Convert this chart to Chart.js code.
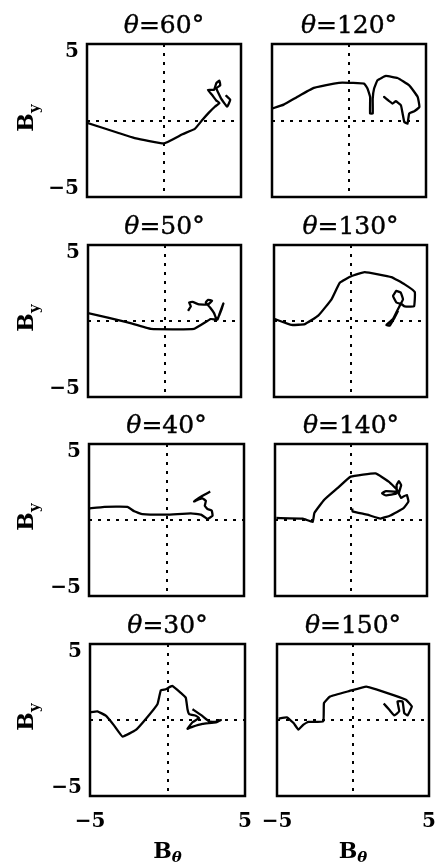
<!DOCTYPE html>
<html>
<head>
<meta charset="utf-8">
<script src="https://cdn.jsdelivr.net/npm/chart.js@4.4.1/dist/chart.umd.min.js"></script>
<style>
  html, body { margin: 0; padding: 0; background: #fff; overflow: hidden; }
  #page { position: relative; width: 438px; height: 865px; overflow: hidden; }
  canvas { position: absolute; }
  .title { position: absolute; text-align: center; font: 25px/24px "DejaVu Serif", serif; color: #000; z-index: 2; white-space: nowrap; -webkit-text-stroke: 0.4px #000; }
  .ylab, .xlab { position: absolute; text-align: center; font: bold 22px/30px "DejaVu Serif", serif; color: #000; z-index: 2; white-space: nowrap; }
  .ylab { width: 60px; height: 30px; transform: rotate(-90deg); }
  .xlab { width: 60px; line-height: 22px; }
  .ylab sub { font-size: 15px; vertical-align: -6px; }
  .xlab sub { font-size: 15px; vertical-align: -4px; }
</style>
</head>
<body>
<div id="page"></div>
<script>
const angles = [60, 120, 50, 130, 40, 140, 30, 150];
const axisTicks = [-5, 0, 5];
const axisTickText = ['−5', '', '5'];

// hodogram traces: B_theta (x) and B_y (y) for each panel
const bt60 = [-5, -3.0, -1.9, 0, 1.2, 2.0, 2.5, 2.9, 3.3, 3.6, 3.4, 3.1, 2.85, 3.25, 3.4, 3.6, 3.65, 3.4, 3.7, 4.1, 4.3, 4.0];
const by60 = [-0.15, -0.8, -1.15, -1.5, -0.9, -0.55, 0.05, 0.5, 0.9, 1.15, 1.3, 1.7, 2.0, 2.0, 2.45, 2.6, 2.3, 2.1, 1.45, 0.9, 1.35, 1.65];

const bt120 = [-5, -4.24, -3.37, -2.28, -0.98, -0.43, 0.98, 1.2, 1.37, 1.37, 1.54, 1.54, 1.63, 1.85, 2.39, 3.15, 3.91, 4.46, 4.57, 4.24, 3.91, 3.8, 3.59, 3.48, 3.37, 3.04, 2.83, 2.54, 2.28, 2.61];
const by120 = [0.78, 1.04, 1.54, 2.13, 2.41, 2.48, 2.41, 2.09, 1.54, 0.46, 0.46, 1.43, 2.09, 2.63, 2.91, 2.78, 2.3, 1.54, 0.89, 0.61, 0.46, -0.2, -0.09, 0.46, 1.0, 1.26, 1.11, 1.33, 1.54, 1.26];

const bt50 = [-5, -2.41, -0.89, 1.93, 3.02, 3.46, 3.63, 3.85, 3.57, 3.41, 3.24, 2.98, 2.7, 2.85, 3.11, 2.85, 2.26, 1.83, 1.61, 1.72, 1.54];
const by50 = [0.52, -0.09, -0.52, -0.52, 0.13, 0.09, 0.57, 1.15, 0.35, 0.09, 0.52, 0.89, 1.22, 1.39, 1.33, 1.09, 1.09, 1.26, 1.22, 0.96, 0.67];

const bt130 = [-4.95, -3.85, -2.98, -2.11, -1.24, -0.7, 0.07, 0.93, 2.67, 3.54, 4.2, 4.15, 3.54, 3.33, 3.0, 2.78, 3.0, 3.28, 3.43, 3.22, 3.0, 2.78, 2.35, 2.56, 2.89, 3.11];
const by130 = [0.13, -0.26, -0.2, 0.35, 1.43, 2.52, 2.96, 3.22, 2.89, 2.41, 1.91, 0.96, 0.96, 1.11, 1.22, 1.65, 1.98, 1.87, 1.43, 1.0, 0.57, 0.13, -0.26, -0.3, 0.24, 0.67];

const bt40 = [-5, -4.0, -2.52, -2.08, -1.55, 0, 1.57, 2.22, 2.65, 2.97, 2.92, 2.65, 2.47, 2.54, 2.32, 2.11, 1.78, 2.32, 2.82];
const by40 = [0.76, 0.87, 0.87, 0.57, 0.39, 0.35, 0.43, 0.35, 0.07, 0.28, 0.61, 0.72, 0.93, 1.26, 1.43, 1.37, 1.22, 1.59, 1.87];

const bt140 = [-4.91, -3.17, -2.52, -2.41, -1.76, -0.89, -0.02, 1.61, 2.48, 3.13, 2.3, 2.04, 2.3, 3.0, 3.0, 3.15, 3.3, 3.15, 3.3, 3.45, 3.67, 3.78, 3.46, 2.59, 1.93, 1.07, 0.09, 0.09];
const by140 = [0.13, 0.09, -0.13, 0.46, 1.33, 2.09, 2.85, 3.07, 2.52, 1.87, 1.9, 1.76, 1.62, 1.75, 2.3, 2.55, 2.3, 1.75, 1.45, 1.55, 1.65, 1.22, 0.78, 0.3, 0.09, 0.35, 0.57, 0.75];

const bt30 = [-5, -4.52, -3.98, -3.44, -2.9, -2.04, -1.4, -0.65, -0.43, -0.11, 0.3, 0.86, 1.18, 1.29, 1.4, 1.83, 2.04, 1.61, 1.29, 1.6, 2.26, 3.12, 3.44, 3.1, 2.7, 2.2, 1.61];
const by30 = [0.5, 0.57, 0.28, -0.37, -1.09, -0.65, 0.07, 1.04, 1.96, 2.02, 2.24, 1.78, 1.46, 0.71, 0.39, 0.28, 0.13, -0.15, -0.58, -0.45, -0.26, -0.15, 0, -0.12, -0.1, 0.3, 0.71];

const bt150 = [-4.89, -4.35, -3.91, -3.59, -3.26, -2.93, -1.96, -1.91, -1.52, -0.22, 0.87, 1.63, 2.61, 3.48, 3.87, 3.59, 3.37, 3.26, 2.93, 3.04, 2.72, 2.39, 2.02];
const by150 = [0.09, 0.17, -0.2, -0.63, -0.3, -0.13, -0.09, 1.11, 1.54, 1.91, 2.2, 1.98, 1.65, 1.33, 0.89, 0.3, 0.46, 1.22, 1.22, 0.57, 0.3, 0.67, 1.09];

const traces = {
    60: [bt60, by60], 120: [bt120, by120],
    50: [bt50, by50], 130: [bt130, by130],
    40: [bt40, by40], 140: [bt140, by140],
    30: [bt30, by30], 150: [bt150, by150]
};

// plot frame positions on the page (left, right, top, bottom)
const frames = [
    [87, 241, 44, 197], [272, 426, 44, 197],
    [88, 241, 245, 397], [274, 427, 245, 397],
    [89, 244, 444, 596], [275, 427, 444, 596],
    [90, 245, 644, 796], [277, 429, 644, 796]
];

const page = document.getElementById('page');
const serif = '"DejaVu Serif", serif';

const boxPlugin = {
    id: 'box',
    afterDatasetsDraw(chart) {
        const { ctx, chartArea: a } = chart;
        ctx.save();
        ctx.strokeStyle = '#000';
        ctx.lineWidth = 2.5;
        ctx.strokeRect(a.left, a.top, a.right - a.left, a.bottom - a.top);
        ctx.restore();
    }
};

function zeroGrid(ctx) {
    return ctx.tick && ctx.tick.value === 0 ? '#000' : 'rgba(0,0,0,0)';
}

angles.forEach((angle, i) => {
    const [x0, x1, y0, y1] = frames[i];
    const col = i % 2;
    const bottomRow = i >= 6;

    let left, width, padL, padR, yw;
    if (col === 0) {
        left = 0; padL = 0; yw = x0; padR = 14; width = x1 + padR;
    } else {
        left = x0 - 20; padL = 20; yw = 0; width = 438 - left; padR = 438 - x1;
    }
    const padT = 8;
    const xh = bottomRow ? 44 : 0;
    const padB = bottomRow ? 2 : 8;
    const height = padT + (y1 - y0) + xh + padB;

    const canvas = document.createElement('canvas');
    canvas.width = width;
    canvas.height = height;
    canvas.style.left = left + 'px';
    canvas.style.top = (y0 - padT) + 'px';
    page.appendChild(canvas);

    const [xs, ys] = traces[angle];

    new Chart(canvas.getContext('2d'), {
        type: 'scatter',
        data: {
            datasets: [{
                data: xs.map((x, k) => ({ x: x, y: ys[k] })),
                showLine: true,
                borderColor: '#000',
                borderWidth: 2.3,
                pointRadius: 0,
                tension: 0.1,
                fill: false
            }]
        },
        options: {
            responsive: false,
            animation: false,
            layout: { padding: { left: padL, right: padR, top: padT, bottom: padB } },
            plugins: { legend: { display: false }, tooltip: { enabled: false } },
            scales: {
                x: {
                    min: -5, max: 5,
                    afterBuildTicks: s => { s.ticks = axisTicks.map(v => ({ value: v })); },
                    afterFit: s => { s.height = xh; s.paddingLeft = 0; s.paddingRight = 0; },
                    ticks: {
                        display: bottomRow,
                        padding: 14,
                        color: '#000',
                        font: { family: serif, size: 20, weight: 'bold', lineHeight: 1.2 },
                        callback: (v, idx) => axisTickText[idx]
                    },
                    grid: { color: zeroGrid, lineWidth: 2, drawTicks: false },
                    border: { display: false, dash: [3, 6] }
                },
                y: {
                    min: -5, max: 5,
                    afterBuildTicks: s => { s.ticks = axisTicks.map(v => ({ value: v })); },
                    afterFit: s => { s.width = yw; s.paddingTop = 0; s.paddingBottom = 0; },
                    ticks: {
                        display: col === 0,
                        padding: 8,
                        color: '#000',
                        font: { family: serif, size: 20, weight: 'bold', lineHeight: 0.8 },
                        // nudge the end labels inward like the printed figure
                        callback: (v, idx) => idx === 2 ? ['', axisTickText[idx]] : idx === 0 ? [axisTickText[idx], ''] : ''
                    },
                    grid: { color: zeroGrid, lineWidth: 2, drawTicks: false },
                    border: { display: false, dash: [3, 6] }
                }
            }
        },
        plugins: [boxPlugin]
    });

    const title = document.createElement('div');
    title.className = 'title';
    title.style.left = x0 + 'px';
    title.style.width = (x1 - x0) + 'px';
    title.style.top = (y0 - 31) + 'px';
    title.innerHTML = '<i>θ</i>=' + angle + '°';
    page.appendChild(title);

    if (col === 0) {
        const yl = document.createElement('div');
        yl.className = 'ylab';
        yl.style.left = (25 - 30) + 'px';
        yl.style.top = ((y0 + y1) / 2 - 3 - 15) + 'px';
        yl.innerHTML = 'B<sub>y</sub>';
        page.appendChild(yl);
    }

    if (bottomRow) {
        const xl = document.createElement('div');
        xl.className = 'xlab';
        xl.style.left = ((x0 + x1) / 2 - 30) + 'px';
        xl.style.top = '839px';
        xl.innerHTML = 'B<sub><i>θ</i></sub>';
        page.appendChild(xl);
    }
});
</script>
</body>
</html>
